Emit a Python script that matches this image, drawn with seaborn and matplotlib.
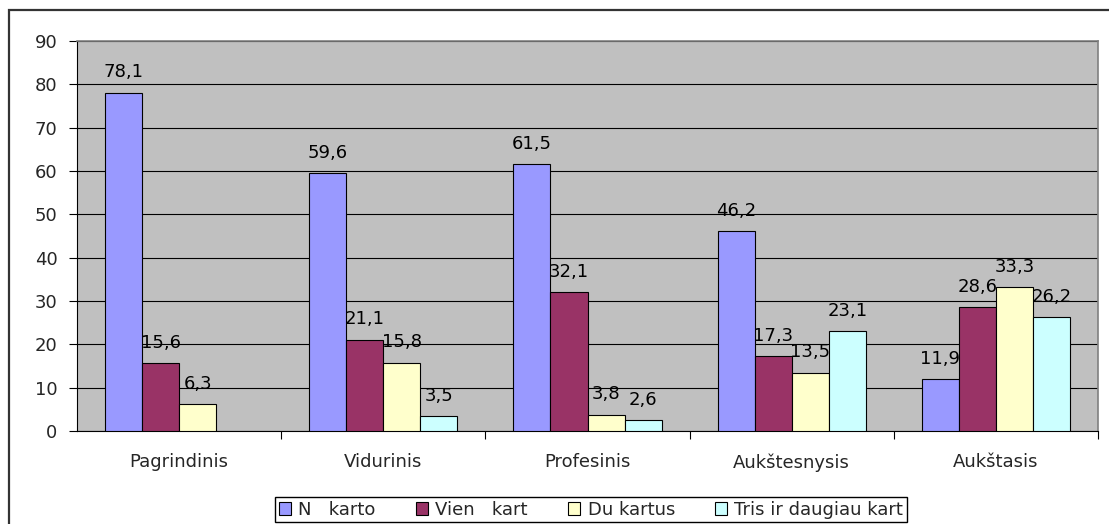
import numpy as np
import pandas as pd
import seaborn as sns
import matplotlib.pyplot as plt
from matplotlib.patches import Rectangle

# data
categories = ["Pagrindinis", "Vidurinis", "Profesinis", "Aukštesnysis", "Aukštasis"]
series_names = ["N   karto", "Vien   kart", "Du kartus", "Tris ir daugiau kart"]
ne_karto = [78.1, 59.6, 61.5, 46.2, 11.9]
viena_karta = [15.6, 21.1, 32.1, 17.3, 28.6]
du_kartus = [6.3, 15.8, 3.8, 13.5, 33.3]
tris_ir_daugiau = [np.nan, 3.5, 2.6, 23.1, 26.2]
colors = ["#9999FF", "#993366", "#FFFFCC", "#CCFFFF"]

rows = []
for name, vals in zip(series_names, [ne_karto, viena_karta, du_kartus, tris_ir_daugiau]):
    for cat, v in zip(categories, vals):
        rows.append({"cat": cat, "series": name, "value": v})
df = pd.DataFrame(rows)

sns.set_theme(style="white")
plt.rcParams["font.family"] = ["DejaVu Sans"]
fs = 13

fig = plt.figure(figsize=(11.09, 5.24), dpi=100)
ax = fig.add_axes([77 / 1109, 1 - 431 / 524, (1098 - 77) / 1109, (431 - 41) / 524])
ax.set_facecolor("#C0C0C0")

sns.barplot(data=df, x="cat", y="value", hue="series", order=categories,
            hue_order=series_names, palette=colors, width=0.725, gap=0,
            edgecolor="black", linewidth=0.8, saturation=1, ax=ax, zorder=3)

for cont in ax.containers:
    labels = ["" if np.isnan(v) else f"{v:.1f}".replace(".", ",") for v in cont.datavalues]
    ax.bar_label(cont, labels=labels, padding=8, fontsize=fs, color="black")

ax.set_ylim(0, 90)
ax.set_yticks(range(0, 91, 10))
ax.set_xlim(-0.5, 4.5)
ax.set_xlabel("")
ax.set_ylabel("")
ax.yaxis.grid(True, color="black", linewidth=0.8, zorder=0)
ax.set_axisbelow(True)

ax.tick_params(axis="y", which="major", direction="out", length=6, width=0.8,
               color="black", labelsize=fs, pad=8, left=True)
ax.tick_params(axis="x", which="major", length=0, labelsize=fs, pad=16)
ax.set_xticks(np.arange(0.5, 5, 1), minor=True)
ax.tick_params(axis="x", which="minor", direction="out", length=6, width=0.8,
               color="black", bottom=True)

for side in ["top", "right"]:
    ax.spines[side].set_color("#808080")
    ax.spines[side].set_linewidth(1.2)
for side in ["left", "bottom"]:
    ax.spines[side].set_color("black")
    ax.spines[side].set_linewidth(0.8)

ax.legend(loc="upper center", bbox_to_anchor=(591 / 1109, 1 - 497 / 524), bbox_transform=fig.transFigure,
          ncol=4, frameon=True, fancybox=False, edgecolor="black", fontsize=fs,
          handlelength=0.7, handleheight=0.7, handletextpad=0.4, columnspacing=2.2,
          borderpad=0.2, borderaxespad=0, framealpha=1)

fig.patches.append(Rectangle((9 / 1109, -0.2), 1.2, 1 - 10 / 524 + 0.2, transform=fig.transFigure,
                             fill=False, edgecolor="#333333", linewidth=1.6, zorder=0))

fig.savefig("out.png", dpi=100)
